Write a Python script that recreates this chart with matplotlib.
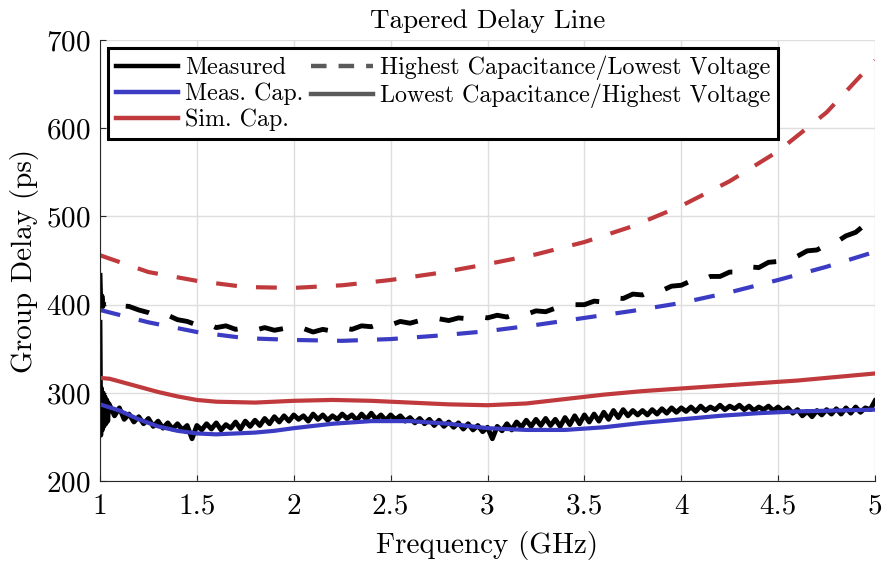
import numpy as np
import matplotlib
matplotlib.use("Agg")
import matplotlib.pyplot as plt
from matplotlib.lines import Line2D

plt.rcParams["font.family"] = ["cmr10", "DejaVu Serif"]
plt.rcParams["mathtext.fontset"] = "cm"
plt.rcParams["axes.formatter.use_mathtext"] = True
plt.rcParams["axes.unicode_minus"] = False

# --- data ---
# simulated / extracted capacitance curves (smooth)
f_hi_sim = [1.0, 1.25, 1.5, 1.75, 2.0, 2.25, 2.5, 2.75, 3.0, 3.25, 3.5, 3.75, 4.0, 4.25, 4.5, 4.75, 5.0]
sim_cap_hi = [456, 437, 427, 420, 419, 422, 428, 436, 446, 457, 471, 489, 512, 540, 574, 618, 677]
meas_cap_hi = [394, 380, 369, 362, 360, 359, 361, 365, 370, 377, 385, 393, 402, 414, 428, 443, 460]

f_lo_meas_cap = [1.0, 1.1, 1.2, 1.3, 1.4, 1.5, 1.6, 1.7, 1.8, 1.9, 2.0, 2.2, 2.4, 2.6, 2.8, 3.0,
                 3.2, 3.4, 3.6, 3.8, 4.0, 4.2, 4.4, 4.6, 4.8, 5.0]
meas_cap_lo = [287, 280, 270, 262, 257, 254, 253, 254, 255, 257, 260, 265, 268, 268, 265, 260,
               258, 258, 261, 266, 270, 274, 277, 279, 280, 281]

f_lo_sim = [1.0, 1.05, 1.1, 1.2, 1.3, 1.4, 1.5, 1.6, 1.8, 2.0, 2.2, 2.4, 2.6, 2.8, 3.0, 3.2, 3.4,
            3.6, 3.8, 4.0, 4.2, 4.4, 4.6, 4.8, 5.0]
sim_cap_lo = [317, 316, 313, 307, 301, 296, 292, 290, 289, 291, 292, 291, 289, 287, 286, 288, 293,
              298, 302, 305, 308, 311, 314, 318, 322]

# measured, lowest capacitance (noisy) - start-up spike then 0.025 GHz steps
f_meas_lo_head = [1.0, 1.004, 1.008, 1.012, 1.016, 1.02, 1.025, 1.03, 1.035, 1.04, 1.045]
meas_lo_head = [380, 252, 305, 258, 300, 262, 296, 265, 292, 268, 288]
meas_lo_body = [
    286, 274, 283, 270, 276, 267, 273, 265, 271, 262,
    268, 260, 266, 259, 265, 258, 263, 248, 263, 258,
    265, 259, 266, 258, 264, 260, 267, 259, 268, 262,
    269, 263, 271, 265, 273, 267, 274, 268, 275, 270,
    274, 268, 276, 270, 275, 269, 274, 270, 276, 271,
    275, 269, 276, 270, 277, 270, 275, 269, 275, 270,
    274, 268, 272, 266, 271, 265, 270, 263, 269, 262,
    267, 261, 266, 259, 265, 258, 263, 256, 261, 248,
    262, 257, 265, 258, 267, 261, 269, 262, 270, 263,
    271, 263, 270, 262, 272, 264, 274, 265, 275, 267,
    276, 268, 278, 270, 280, 272, 281, 274, 280, 275,
    280, 275, 281, 276, 282, 277, 283, 278, 283, 279,
    284, 279, 285, 280, 284, 281, 286, 281, 285, 282,
    286, 281, 285, 280, 284, 281, 285, 280, 284, 279,
    283, 277, 281, 274, 279, 273, 280, 275, 281, 276,
    282, 276, 283, 277, 284, 278, 283, 281, 291,
]

# measured, highest capacitance (noisy) - spike then 0.05 GHz steps
f_meas_hi_head = [1.0, 1.005, 1.01, 1.015, 1.02]
meas_hi_head = [436, 392, 410, 398, 404]
meas_hi_body = [
    403, 399, 398, 394, 391, 386, 388, 383, 381, 377,
    379, 374, 376, 372, 374, 371, 374, 371, 373, 370,
    373, 369, 372, 370, 374, 372, 376, 375, 379, 377,
    381, 379, 382, 381, 384, 382, 385, 384, 387, 385,
    388, 386, 390, 389, 393, 392, 396, 396, 400, 400,
    404, 403, 408, 407, 412, 411, 416, 416, 421, 422,
    427, 427, 432, 432, 437, 437, 443, 442, 448, 449,
    454, 455, 461, 462, 468, 471, 478, 482, 491, 506,
]

x_ticks = [1, 1.5, 2, 2.5, 3, 3.5, 4, 4.5, 5]
x_tick_labels = ["1", "1.5", "2", "2.5", "3", "3.5", "4", "4.5", "5"]
y_ticks = [200, 300, 400, 500, 600, 700]

f_meas_lo = np.concatenate([f_meas_lo_head, np.linspace(1.05, 5.0, len(meas_lo_body))])
meas_lo = np.concatenate([meas_lo_head, meas_lo_body])
f_meas_hi = np.concatenate([f_meas_hi_head, np.linspace(1.05, 5.0, len(meas_hi_body))])
meas_hi = np.concatenate([meas_hi_head, meas_hi_body])

RED = "#C0393C"
BLUE = "#3B3BC4"
dash = (0, (5, 4.6))

fig = plt.figure(figsize=(8.88, 5.64), dpi=100)
ax = fig.add_axes([0.1126, 0.147, 0.8728, 0.782])

ax.plot(f_hi_sim, sim_cap_hi, color=RED, lw=3.0, ls=dash)
ax.plot(f_hi_sim, meas_cap_hi, color=BLUE, lw=3.0, ls=dash)
ax.plot(f_meas_hi, meas_hi, color="black", lw=3.5, ls=dash)
ax.plot(f_meas_lo, meas_lo, color="black", lw=3.5)
ax.plot(f_lo_meas_cap, meas_cap_lo, color=BLUE, lw=3.0)
ax.plot(f_lo_sim, sim_cap_lo, color=RED, lw=3.0)

ax.set_xlim(1, 5)
ax.set_ylim(200, 700)
ax.set_xticks(x_ticks)
ax.set_xticklabels(x_tick_labels)
ax.set_yticks(y_ticks)
ax.tick_params(direction="in", length=4, width=0.8, labelsize=21, colors="#262626")
ax.tick_params(axis="x", pad=9)
ax.tick_params(axis="y", pad=7)
for lab in ax.get_xticklabels() + ax.get_yticklabels():
    lab.set_color("black")
ax.spines["top"].set_visible(False)
ax.spines["right"].set_visible(False)
for s in ("left", "bottom"):
    ax.spines[s].set_color("#262626")
    ax.spines[s].set_linewidth(0.8)
ax.grid(True, color="#dedede", lw=1.0)
ax.set_axisbelow(True)

ax.set_xlabel("Frequency (GHz)", fontsize=21, labelpad=8)
ax.set_ylabel("Group Delay (ps)", fontsize=21, labelpad=5)
ax.set_title("Tapered Delay Line", fontsize=19.5, pad=9)

handles = [
    Line2D([], [], color="black", lw=3.2),
    Line2D([], [], color=BLUE, lw=3.2),
    Line2D([], [], color=RED, lw=3.2),
    Line2D([], [], color="#5a5a5a", lw=3.2, ls=(0, (3.5, 2.7))),
    Line2D([], [], color="#5a5a5a", lw=3.2),
]
labels = ["Measured", "Meas. Cap.", "Sim. Cap.",
          "Highest Capacitance/Lowest Voltage", "Lowest Capacitance/Highest Voltage"]
leg = ax.legend(handles, labels, ncol=2, loc="upper left", fontsize=17.3,
                frameon=True, fancybox=False, framealpha=1, edgecolor="black",
                handlelength=2.6, handletextpad=0.3, columnspacing=0.3,
                labelspacing=0.15, borderpad=0.3, borderaxespad=0.35)
leg.get_frame().set_linewidth(2.2)

fig.savefig("out.png", dpi=100)
